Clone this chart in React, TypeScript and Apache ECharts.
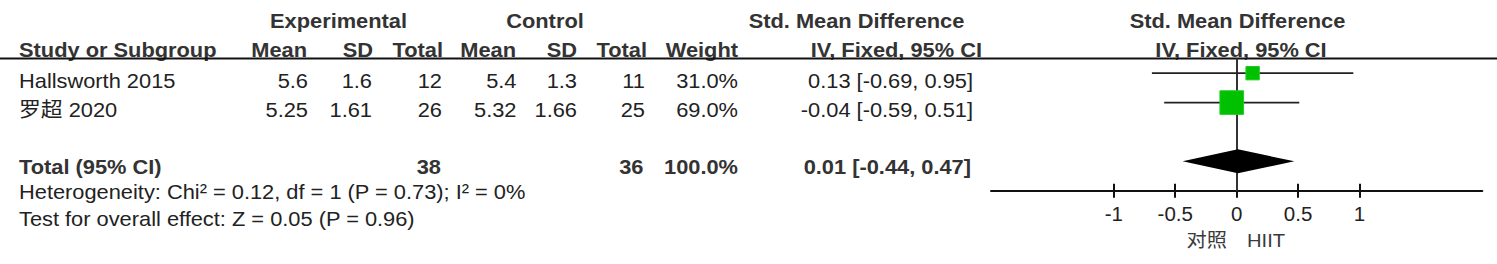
import React, { useEffect, useRef } from "react";
import * as echarts from "echarts";

// ---- data ----
const studies = ["Hallsworth 2015", "罗超 2020"];
const expMean = ["5.6", "5.25"];
const expSD = ["1.6", "1.61"];
const expN = [12, 26];
const ctrlMean = ["5.4", "5.32"];
const ctrlSD = ["1.3", "1.66"];
const ctrlN = [11, 25];
const weights = [31.0, 69.0];
const smd = [0.13, -0.04];
const ciLow = [-0.69, -0.59];
const ciHigh = [0.95, 0.51];

const totalLabel = "Total (95% CI)";
const totalExpN = 38;
const totalCtrlN = 36;
const totalWeight = 100.0;
const totalSmd = 0.01;
const totalLow = -0.44;
const totalHigh = 0.47;

const heterogeneityText = "Heterogeneity: Chi² = 0.12, df = 1 (P = 0.73); I² = 0%";
const overallText = "Test for overall effect: Z = 0.05 (P = 0.96)";

const tickValues = [-1, -0.5, 0, 0.5, 1];
const axisMin = -2;
const axisMax = 2;
const favoursLeft = "对照";
const favoursRight = "HIIT";

const header1 = ["Experimental", "Control", "Std. Mean Difference", "Std. Mean Difference"];
const header2 = ["Study or Subgroup", "Mean", "SD", "Total", "Mean", "SD", "Total", "Weight", "IV, Fixed, 95% CI", "IV, Fixed, 95% CI"];

// ---- style ----
const FONT = "'Liberation Sans', Arial, 'Noto Sans CJK SC', sans-serif";
const FS = 20.5;
const SX = 1.065;
const W = 1497;
const H = 264;

function txt(text: string, x: number, y: number, align: string, bold = false, color = "#222", fs = FS) {
  return {
    type: "text",
    x,
    y,
    scaleX: SX,
    silent: true,
    style: {
      text,
      x: 0,
      y: 0,
      fill: color,
      fontSize: fs,
      fontFamily: FONT,
      fontWeight: bold ? "bold" : "normal",
      align,
      verticalAlign: "middle",
    },
  };
}

const fmtCI = (e: number, l: number, h: number) => `${e.toFixed(2)} [${l.toFixed(2)}, ${h.toFixed(2)}]`;

export default function App() {
  const ref = useRef<HTMLDivElement>(null);
  useEffect(() => {
    if (!ref.current) return;
    const chart = echarts.init(ref.current, undefined, { renderer: "svg" });

    // column right edges
    const colR = [308, 372, 442, 516.5, 577, 645, 738, 973];
    const rowY = [81, 109.7];
    const hdr = "#333";

    const graphics: any[] = [];
    // header row 1
    graphics.push(txt(header1[0], 338.5, 21, "center", true, hdr));
    graphics.push(txt(header1[1], 545, 21, "center", true, hdr));
    graphics.push(txt(header1[2], 856.5, 21, "center", true, hdr));
    graphics.push(txt(header1[3], 1237.5, 21, "center", true, hdr));
    // header row 2
    graphics.push(txt(header2[0], 19, 50, "left", true, hdr));
    const h2R = [307, 373, 443, 516, 577, 647, 738, 982];
    for (let i = 0; i < 8; i++) graphics.push(txt(header2[i + 1], h2R[i], 50, "right", true, hdr));
    graphics.push(txt(header2[9], 1241, 50, "center", true, hdr));
    // underline
    graphics.push({
      type: "line",
      silent: true,
      shape: { x1: 0, y1: 58.5, x2: W, y2: 58.5 },
      style: { stroke: "#111", lineWidth: 2 },
    });
    // study rows
    studies.forEach((s, i) => {
      const y = rowY[i];
      graphics.push(txt(s, 19, y, "left"));
      const vals = [
        expMean[i],
        expSD[i],
        String(expN[i]),
        ctrlMean[i],
        ctrlSD[i],
        String(ctrlN[i]),
        weights[i].toFixed(1) + "%",
        fmtCI(smd[i], ciLow[i], ciHigh[i]),
      ];
      vals.forEach((v, j) => graphics.push(txt(v, colR[j], y, "right")));
    });
    // total row
    const ty = 167;
    graphics.push(txt(totalLabel, 19, ty, "left", true, hdr));
    graphics.push(txt(String(totalExpN), 441, ty, "right", true, hdr));
    graphics.push(txt(String(totalCtrlN), 643.5, ty, "right", true, hdr));
    graphics.push(txt(totalWeight.toFixed(1) + "%", 738, ty, "right", true, hdr));
    graphics.push(txt(fmtCI(totalSmd, totalLow, totalHigh), 971, ty, "right", true, hdr));
    // footer
    graphics.push(txt(heterogeneityText, 19, 191.5, "left"));
    graphics.push(txt(overallText, 19, 219, "left"));
    // favours labels
    graphics.push(txt(favoursLeft, 1227, 240, "right", false, "#3a3a3a", 19));
    graphics.push(txt(favoursRight, 1247, 240, "left", false, "#3a3a3a", 19));

    const option: any = {
      animation: false,
      backgroundColor: "#fff",
      grid: { left: 991, right: 14.7, top: 58.5, bottom: H - 190.7, containLabel: false },
      xAxis: [
        {
          type: "value",
          min: axisMin,
          max: axisMax,
          position: "bottom",
          axisLine: { show: true, lineStyle: { color: "#111", width: 2 } },
          axisTick: { show: true, length: 7, inside: false, customValues: tickValues, lineStyle: { color: "#111", width: 2 } },
          axisLabel: {
            show: true,
            customValues: tickValues,
            margin: 13,
            color: "#222",
            fontSize: FS,
            fontFamily: FONT,
          },
          splitLine: { show: false },
        },
        {
          type: "value",
          min: axisMin,
          max: axisMax,
          position: "bottom",
          offset: 0,
          axisLine: { show: false },
          axisTick: { show: true, length: 7, inside: true, customValues: tickValues, lineStyle: { color: "#111", width: 2 } },
          axisLabel: { show: false },
          splitLine: { show: false },
        },
      ],
      yAxis: { type: "value", min: 0.5, max: 5, inverse: true, show: false },
      series: [
        {
          type: "custom",
          z: 2,
          xAxisIndex: 0,
          renderItem: (params: any, api: any) => {
            const a = api.coord([api.value(0), api.value(2)]);
            const b = api.coord([api.value(1), api.value(2)]);
            return {
              type: "line",
              shape: { x1: a[0], y1: a[1], x2: b[0], y2: b[1] },
              style: { stroke: "#222", lineWidth: 1.8 },
            };
          },
          encode: { x: [0, 1], y: 2 },
          data: studies.map((_, i) => [ciLow[i], ciHigh[i], i + 1]),
          markLine: {
            silent: true,
            z: 1,
            symbol: "none",
            label: { show: false },
            lineStyle: { color: "#333", width: 2, type: "solid" },
            data: [{ xAxis: 0 }],
          },
        },
        {
          type: "scatter",
          z: 3,
          symbol: "rect",
          symbolSize: (v: any, p: any) => 5 + 0.27 * weights[p.dataIndex],
          itemStyle: { color: "#00c000", borderColor: "#22cc22", borderWidth: 1, opacity: 1 },
          data: studies.map((_, i) => [smd[i], i + 1]),
        },
        {
          type: "custom",
          z: 3,
          renderItem: (params: any, api: any) => {
            const row = api.value(2);
            const l = api.coord([api.value(0), row]);
            const r = api.coord([api.value(1), row]);
            const c = api.coord([api.value(3), row]);
            return {
              type: "polygon",
              shape: {
                points: [
                  [l[0], c[1]],
                  [c[0], c[1] - 12],
                  [r[0], c[1]],
                  [c[0], c[1] + 12],
                ],
              },
              style: { fill: "#000" },
            };
          },
          encode: { x: [0, 1, 3], y: 2 },
          data: [[totalLow, totalHigh, 4, totalSmd]],
        },
      ],
      graphic: graphics,
    };
    chart.setOption(option);
    return () => chart.dispose();
  }, []);
  return (
    <div
      ref={ref}
      style={{ position: "absolute", left: 0, top: 0, width: W, height: H, background: "#fff" }}
    />
  );
}
